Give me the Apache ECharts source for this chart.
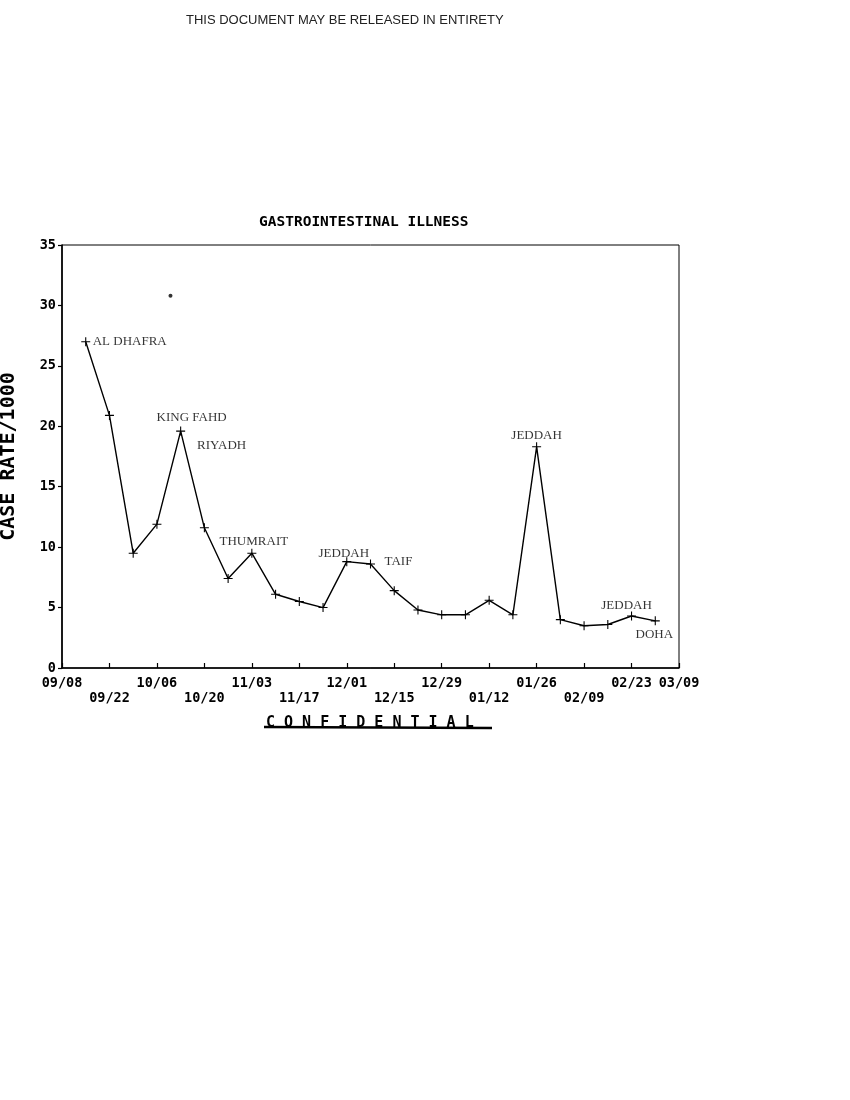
<!DOCTYPE html>
<html>
<head>
<meta charset="utf-8">
<script src="https://cdn.jsdelivr.net/npm/echarts@6/dist/echarts.min.js"></script>
<style>
  html, body { margin: 0; padding: 0; background: #fff; }
  #chart { width: 850px; height: 1100px; }
</style>
</head>
<body>
<div id="chart"></div>
<script>
// ---- data ----
const startDate = '1990-09-08';
const pointDates = ['1990-09-15','1990-09-22','1990-09-29','1990-10-06','1990-10-13','1990-10-20','1990-10-27',
  '1990-11-03','1990-11-10','1990-11-17','1990-11-24','1990-12-01','1990-12-08','1990-12-15','1990-12-22',
  '1990-12-29','1991-01-05','1991-01-12','1991-01-19','1991-01-26','1991-02-02','1991-02-09','1991-02-16',
  '1991-02-23','1991-03-02'];
const caseRates = [27.0, 20.9, 9.5, 11.9, 19.6, 11.6, 7.4, 9.5, 6.1, 5.5, 5.0, 8.8, 8.6, 6.4, 4.8,
  4.4, 4.4, 5.6, 4.4, 18.3, 4.0, 3.5, 3.6, 4.3, 3.9];
const xTickLabels = ['09/08','09/22','10/06','10/20','11/03','11/17','12/01','12/15','12/29','01/12','01/26','02/09','02/23','03/09'];
const yTickLabels = ['0','5','10','15','20','25','30','35'];
const annotSites = ['AL DHAFRA','KING FAHD','RIYADH','THUMRAIT','JEDDAH','TAIF','JEDDAH','JEDDAH','DOHA'];
const annotPointIdx = [0, 4, 4, 7, 11, 12, 19, 23, 24];
const strayDate = '1990-10-10';
const strayValue = 30.8;

// ---- layout / style ----
const xLabelRow = [0,1,0,1,0,1,0,1,0,1,0,1,0,0];
const annotOffsets = [[44,0],[11,-14],[41,14],[2,-12],[-3,-8],[28,-2],[0,-11],[-5,-10],[-1,14]];

const DAY = 86400000;
const t0 = Date.parse(startDate + 'T00:00:00Z');
const dayOf = d => Math.round((Date.parse(d + 'T00:00:00Z') - t0) / DAY);

const lineData = pointDates.map((d, i) => [dayOf(d), caseRates[i]]);
const annotData = annotSites.map((s, k) => ({
  value: lineData[annotPointIdx[k]],
  name: s,
  label: { offset: annotOffsets[k] }
}));

const plus = 'path://M4.4,0 H5.6 V4.4 H10 V5.6 H5.6 V10 H4.4 V5.6 H0 V4.4 H4.4 Z';
const mono = '"DejaVu Sans Mono", monospace';
const serif = '"Liberation Serif", "DejaVu Serif", serif';

const chart = echarts.init(document.getElementById('chart'), null, { renderer: 'canvas' });
chart.setOption({
  backgroundColor: '#ffffff',
  animation: false,
  title: {
    text: 'GASTROINTESTINAL ILLNESS',
    left: 254, top: 210,
    textStyle: { fontFamily: mono, fontWeight: 'bold', fontSize: 14.5, color: '#000' }
  },
  grid: { left: 62, top: 245, width: 617, height: 423, containLabel: false, outerBoundsMode: 'none',
    show: true, borderColor: '#000', borderWidth: 1, backgroundColor: 'transparent' },
  xAxis: {
    type: 'value', min: 0, max: 182, interval: 14,
    axisLine: { lineStyle: { color: '#000', width: 1.6 } },
    axisTick: { inside: true, length: 5, lineStyle: { color: '#000', width: 1.2 } },
    splitLine: { show: false },
    axisLabel: {
      margin: 8,
      fontFamily: mono, fontWeight: 'bold', fontSize: 13.5, color: '#000', lineHeight: 15,
      formatter: v => { const i = Math.round(v / 14); return xLabelRow[i] ? '\n' + xTickLabels[i] : xTickLabels[i]; }
    }
  },
  yAxis: {
    type: 'value', min: 0, max: 35, interval: 5,
    name: 'CASE RATE/1000', nameLocation: 'middle', nameGap: 43, nameRotate: 90,
    nameTextStyle: { fontFamily: mono, fontWeight: 'bold', fontSize: 20, color: '#000' },
    axisLine: { show: true, lineStyle: { color: '#000', width: 1.6 } },
    axisTick: { show: true, length: 4, lineStyle: { color: '#000', width: 1.2 } },
    splitLine: { show: false },
    axisLabel: {
      margin: 6, fontFamily: mono, fontWeight: 'bold', fontSize: 13.5, color: '#000',
      formatter: v => yTickLabels[Math.round(v / 5)]
    }
  },
  series: [
    {
      type: 'line', data: lineData,
      symbol: plus, symbolSize: 9,
      lineStyle: { color: '#000', width: 1.4 },
      itemStyle: { color: '#000' },
      z: 3
    },
    {
      type: 'scatter', data: annotData,
      symbolSize: 0,
      label: {
        show: true, position: 'inside', formatter: p => p.name,
        fontFamily: serif, fontSize: 13, color: '#000', align: 'center', verticalAlign: 'middle'
      },
      z: 4
    },
    {
      type: 'scatter', data: [[dayOf(strayDate), strayValue]],
      symbol: 'circle', symbolSize: 4, itemStyle: { color: '#000' }
    }
  ],
  graphic: [
    {
      type: 'text', left: 186, top: 14,
      style: { text: 'THIS DOCUMENT MAY BE RELEASED IN ENTIRETY', font: '13px "Liberation Sans", Arial, sans-serif', fill: '#222' }
    },
    {
      type: 'text', left: 266, top: 716,
      style: { text: 'C O N F I D E N T I A L', font: 'bold 15px "DejaVu Sans Mono", monospace', fill: '#000' }
    },
    {
      type: 'line', shape: { x1: 264, y1: 727, x2: 492, y2: 728 },
      style: { stroke: '#000', lineWidth: 2.5 }
    }
  ]
});
</script>
</body>
</html>
